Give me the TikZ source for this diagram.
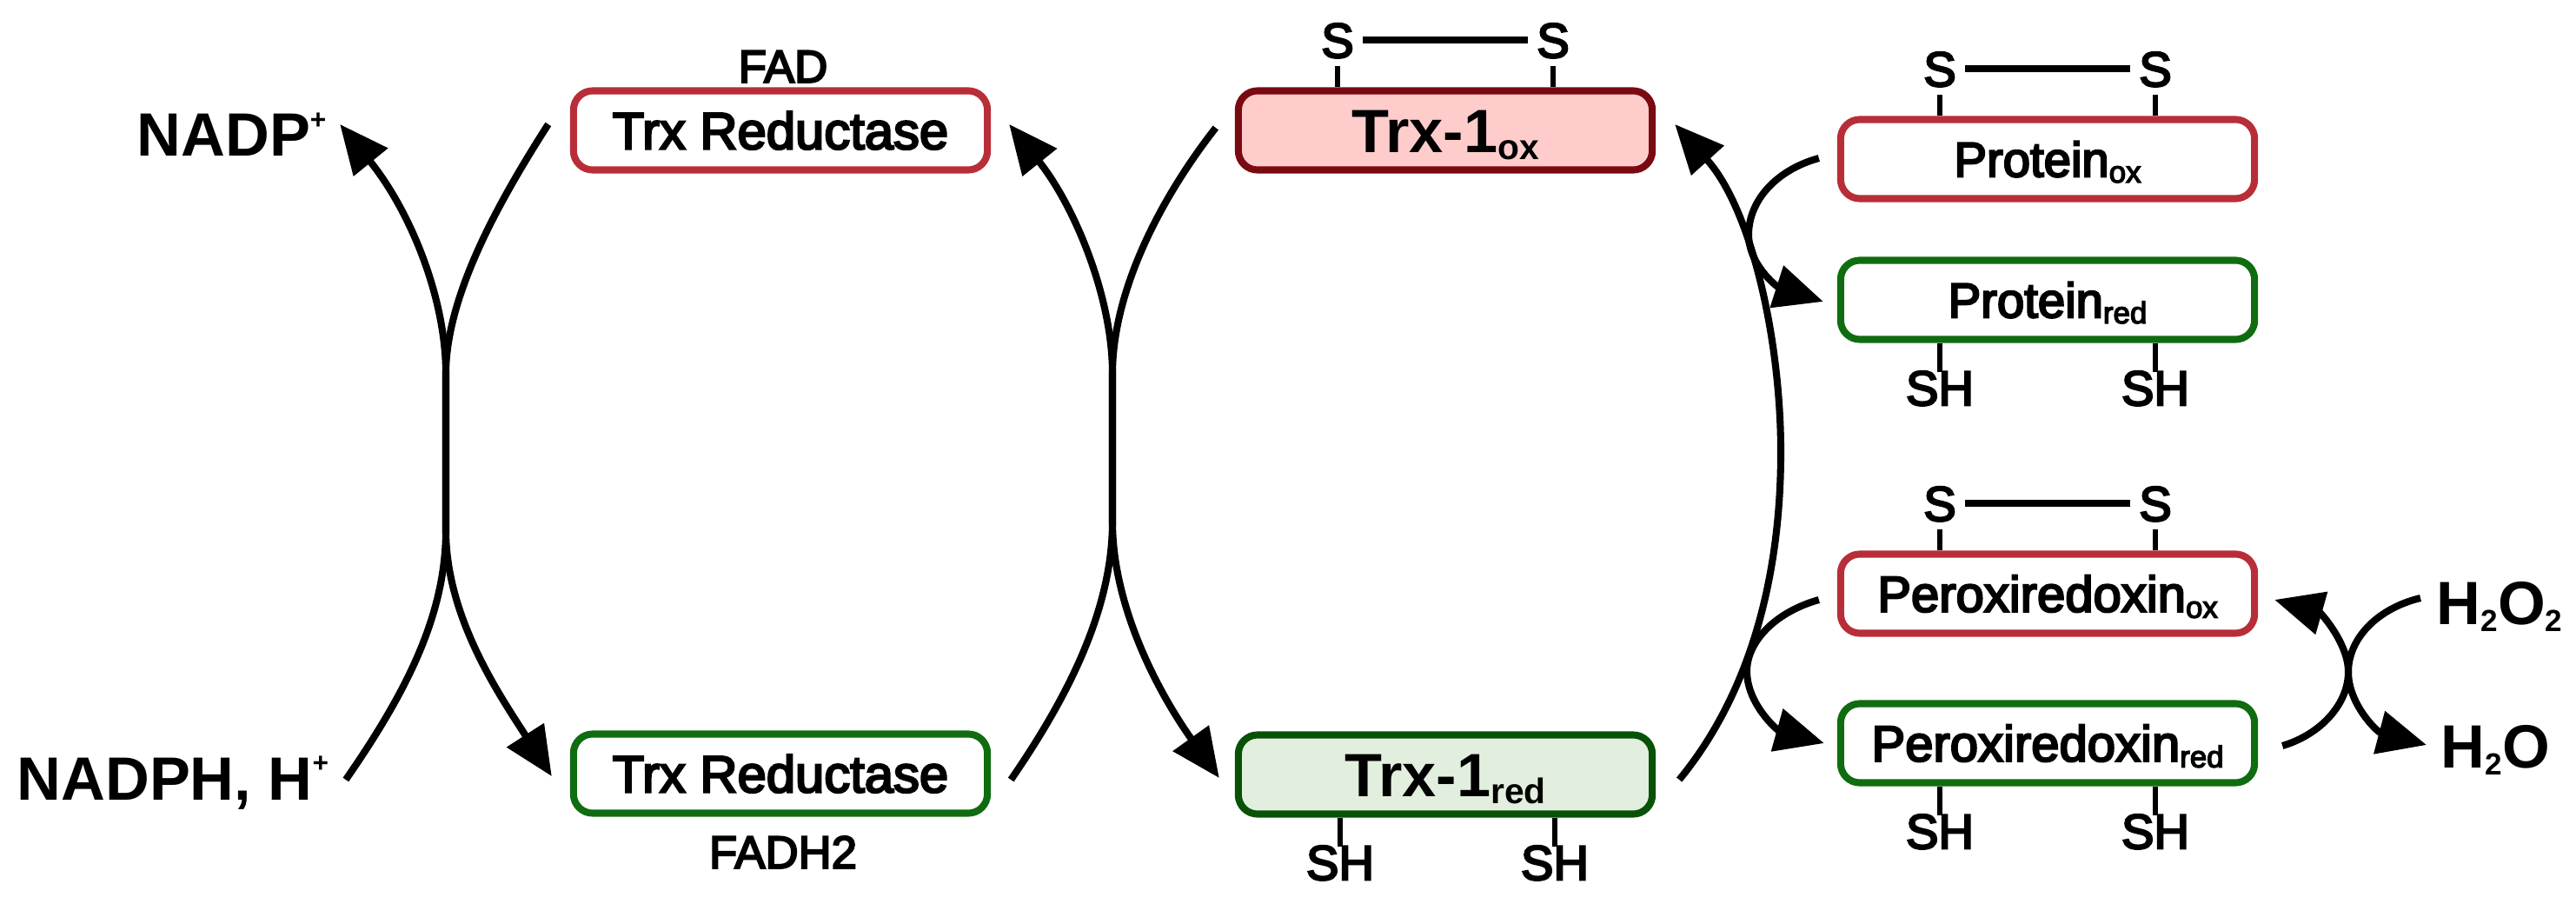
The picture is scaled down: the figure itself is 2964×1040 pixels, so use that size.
\documentclass[tikz,border=0pt]{standalone}
\usepackage{fontspec}
\setmainfont{Liberation Sans}
\newfontfamily\medf[FakeBold=4]{Liberation Sans}
\usetikzlibrary{arrows.meta,calc}
\definecolor{redb}{RGB}{184,46,56}
\definecolor{greenb}{RGB}{16,108,16}
\definecolor{dred}{RGB}{122,10,18}
\definecolor{pinkf}{RGB}{255,204,204}
\definecolor{dgreen}{RGB}{8,82,8}
\definecolor{greenf}{RGB}{226,239,222}
\makeatletter
\newcommand\sbx[2][0.58]{\raisebox{-0.12em}{\fontsize{\fpeval{#1*\f@size}}{\fpeval{#1*\f@size}}\selectfont #2}}
\newcommand\spx[2][0.45]{\raisebox{0.45em}{\fontsize{\fpeval{#1*\f@size}}{\fpeval{#1*\f@size}}\selectfont #2}}
\makeatother
\tikzset{
  bx/.style={draw, line width=2.3pt, rounded corners=0.22cm, minimum width=4.76cm, minimum height=0.91cm, inner sep=0pt},
  oxd/.style={bx, draw=redb},
  rdd/.style={bx, draw=greenb},
  trl/.style={font=\medf\fontsize{17pt}{17pt}\selectfont, text height=12.2pt, text depth=0pt},
  txl/.style={font=\bfseries\fontsize{20pt}{20pt}\selectfont, text height=14.3pt, text depth=0pt},
  prl/.style={font=\medf\fontsize{16pt}{16pt}\selectfont, text height=11.5pt, text depth=0pt},
  pxl/.style={font=\medf\fontsize{16.5pt}{16.5pt}\selectfont, text height=11.8pt, text depth=0pt},
  sl/.style={font=\medf\fontsize{16pt}{16pt}\selectfont, text height=11.5pt, text depth=0pt, inner sep=2.7pt},
  shl/.style={font=\medf\fontsize{16pt}{16pt}\selectfont, text height=11.5pt, text depth=0pt, inner sep=0pt},
  cof/.style={font=\medf\fontsize{15pt}{15pt}\selectfont, text height=10.7pt, text depth=0pt, inner sep=0pt},
  big/.style={font=\bfseries\fontsize{20pt}{20pt}\selectfont, inner sep=0pt},
  conn/.style={line width=2.3pt, -{Triangle[length=16pt,width=14pt]}},
  tk/.style={line width=1.8pt},
  bond/.style={line width=2pt},
}
\begin{document}
\begin{tikzpicture}[x=0.01cm,y=0.01cm]
\useasboundingbox (0,0) rectangle (2964,-1040);

% boxes
\node[oxd, trl] (tro) at (898,-150) {Trx Reductase};
\node[rdd, trl] (trr) at (898,-890) {Trx Reductase};
\node[bx, draw=dred, fill=pinkf, txl] (txo) at (1663,-150) {Trx-1\sbx{ox}};
\node[bx, draw=dgreen, fill=greenf, txl] (txr) at (1663,-891) {Trx-1\sbx{red}};
\node[oxd, prl] (pro) at (2356,-183) {Protein\sbx[0.62]{ox}};
\node[rdd, prl] (prr) at (2356,-345) {Protein\sbx[0.62]{red}};
\node[oxd, pxl] (pxo) at (2356,-683) {Peroxiredoxin\sbx[0.6]{ox}};
\node[rdd, pxl] (pxr) at (2356,-855) {Peroxiredoxin\sbx[0.6]{red}};

% cofactors and small molecules
\node[cof] (fad) at (901,-76) {FAD};
\node[cof] (fadh) at (901,-980) {FADH2};
\node[big, anchor=base west] (nadp) at (157,-180) {NADP\spx{+}};
\node[big, anchor=base west] (nadph) at (19,-920) {NADPH, H\spx{+}};
\node[big, anchor=base west] (h2o2) at (2803,-718) {H\sbx[0.5]{2}O\sbx[0.5]{2}};
\node[big, anchor=base west] (h2o) at (2808,-883) {H\sbx[0.5]{2}O};

% disulfides
\node[sl] (ts1) at ($(txo.center)+(-124,104)$) {S};
\node[sl] (ts2) at ($(txo.center)+(124,104)$) {S};
\draw[bond] (ts1.east) -- (ts2.west);
\draw[tk] (ts1.south) -- (ts1.south |- txo.north);
\draw[tk] (ts2.south) -- (ts2.south |- txo.north);

\node[sl] (ps1) at ($(pro.center)+(-124,104)$) {S};
\node[sl] (ps2) at ($(pro.center)+(124,104)$) {S};
\draw[bond] (ps1.east) -- (ps2.west);
\draw[tk] (ps1.south) -- (ps1.south |- pro.north);
\draw[tk] (ps2.south) -- (ps2.south |- pro.north);

\node[sl] (xs1) at ($(pxo.center)+(-124,104)$) {S};
\node[sl] (xs2) at ($(pxo.center)+(124,104)$) {S};
\draw[bond] (xs1.east) -- (xs2.west);
\draw[tk] (xs1.south) -- (xs1.south |- pxo.north);
\draw[tk] (xs2.south) -- (xs2.south |- pxo.north);

% thiols
\node[shl] (th1) at ($(txr.center)+(-121,-101)$) {SH};
\node[shl] (th2) at ($(txr.center)+(126,-101)$) {SH};
\draw[tk] (txr.south -| th1.north) -- ($(th1.north)+(0,-3)$);
\draw[tk] (txr.south -| th2.north) -- ($(th2.north)+(0,-3)$);

\node[shl] (ph1) at ($(prr.center)+(-124,-101)$) {SH};
\node[shl] (ph2) at ($(prr.center)+(124,-101)$) {SH};
\draw[tk] (prr.south -| ph1.north) -- ($(ph1.north)+(0,-3)$);
\draw[tk] (prr.south -| ph2.north) -- ($(ph2.north)+(0,-3)$);

\node[shl] (xh1) at ($(pxr.center)+(-124,-101)$) {SH};
\node[shl] (xh2) at ($(pxr.center)+(124,-101)$) {SH};
\draw[tk] (pxr.south -| xh1.north) -- ($(xh1.north)+(0,-3)$);
\draw[tk] (pxr.south -| xh2.north) -- ($(xh2.north)+(0,-3)$);

% left crossing
\draw[conn] ($(nadph.base east)+(19,23)$) .. controls (465,-800) and (513,-710) .. (513,-610) -- (513,-430) .. controls (513,-340) and (470,-240) .. ($(nadp.base east)+(15,37)$);
\draw[conn] ($(tro.west)+(-25,7)$) .. controls (575,-230) and (513,-340) .. (513,-430) -- (513,-610) .. controls (513,-710) and (575,-800) .. ($(trr.west)+(-21,-3)$);

% middle crossing
\draw[conn] ($(trr.east)+(23,-7)$) .. controls (1230,-800) and (1280,-700) .. (1280,-600) -- (1280,-430) .. controls (1280,-340) and (1235,-235) .. ($(tro.east)+(21,7)$);
\draw[conn] ($(txo.west)+(-22,3)$) .. controls (1330,-235) and (1280,-340) .. (1280,-430) -- (1280,-600) .. controls (1280,-700) and (1335,-800) .. ($(txr.west)+(-18,-4)$);

% long arc Trx-1red -> Trx-1ox
\draw[conn] ($(txr.east)+(27,-6)$) .. controls (2020,-790) and (2049,-650) .. (2049,-520) .. controls (2049,-390) and (2015,-240) .. ($(txo.east)+(22,7)$);

% protein
\draw[conn] ($(pro.west)+(-21,1)$) .. controls (2045,-195) and (2012,-230) .. (2012,-270) .. controls (2012,-305) and (2045,-330) .. ($(prr.west)+(-16,-2)$);

% peroxiredoxin
\draw[conn] ($(pxo.west)+(-21,-7)$) .. controls (2040,-705) and (2010,-740) .. (2010,-772) .. controls (2010,-810) and (2045,-840) .. ($(pxr.west)+(-15,0)$);

% right crossing
\draw[conn] ($(pxr.east)+(28,-3)$) .. controls (2670,-845) and (2702,-810) .. (2702,-773) .. controls (2702,-740) and (2670,-705) .. ($(pxo.east)+(19,-7)$);
\draw[conn] ($(h2o2.base west)+(-18,30)$) .. controls (2735,-700) and (2702,-735) .. (2702,-773) .. controls (2702,-810) and (2735,-842) .. ($(h2o.base west)+(-16,26)$);
\end{tikzpicture}
\end{document}
